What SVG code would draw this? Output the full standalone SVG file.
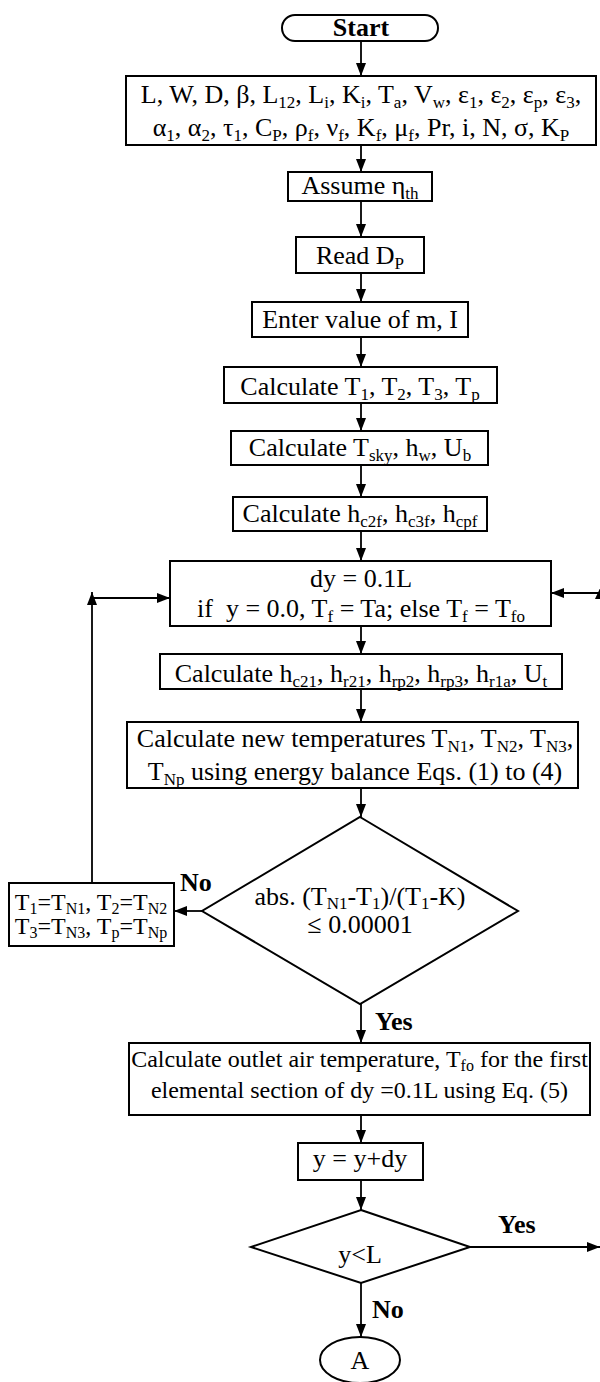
<svg xmlns="http://www.w3.org/2000/svg" width="600" height="1382" viewBox="0 0 600 1382">
<style>
text{font-family:"Liberation Serif","Times New Roman",serif;font-size:26px;fill:#000;text-anchor:middle}
.b{font-weight:bold}
.l{text-anchor:start}
.s{font-size:17px}
.m{font-size:24px}
.ms{font-size:16px}
.box{fill:#fff;stroke:#000;stroke-width:2}
.ln{fill:none;stroke:#000;stroke-width:1.8}
</style>
<defs>
<marker id="ah" markerWidth="13" markerHeight="10" refX="13" refY="5" orient="auto" markerUnits="userSpaceOnUse"><path d="M0,0 L13,5 L0,10 z" fill="#000"/></marker>
</defs>
<g id="connectors">
<path class="ln" d="M361,41 V76" marker-end="url(#ah)"/>
<path class="ln" d="M361,145 V172" marker-end="url(#ah)"/>
<path class="ln" d="M361,201 V237" marker-end="url(#ah)"/>
<path class="ln" d="M361,273 V302" marker-end="url(#ah)"/>
<path class="ln" d="M361,337 V367" marker-end="url(#ah)"/>
<path class="ln" d="M361,403 V431" marker-end="url(#ah)"/>
<path class="ln" d="M361,465 V497" marker-end="url(#ah)"/>
<path class="ln" d="M361,531 V561" marker-end="url(#ah)"/>
<path class="ln" d="M361,626 V654" marker-end="url(#ah)"/>
<path class="ln" d="M361,689 V722" marker-end="url(#ah)"/>
<path class="ln" d="M361,788 V817" marker-end="url(#ah)"/>
<path class="ln" d="M202,911 H174" marker-end="url(#ah)"/>
<path class="ln" d="M92,883 V592" marker-end="url(#ah)"/>
<path class="ln" d="M92,598 H170" marker-end="url(#ah)"/>
<path class="ln" d="M600,593 H551" marker-end="url(#ah)"/>
<path d="M601,586 L595,599 L607,599 z" fill="#000"/>
<path class="ln" d="M361,1004 V1043" marker-end="url(#ah)"/>
<path class="ln" d="M361,1115 V1143" marker-end="url(#ah)"/>
<path class="ln" d="M361,1180 V1210" marker-end="url(#ah)"/>
<path class="ln" d="M470,1247 H600" marker-end="url(#ah)"/>
<path class="ln" d="M361,1283 V1337" marker-end="url(#ah)"/>
<text class="b l" x="180" y="891">No</text>
<text class="b l" x="375" y="1030">Yes</text>
<text class="b l" x="498" y="1233">Yes</text>
<text class="b l" x="372" y="1318">No</text>
</g>
<g id="start">
<rect class="box" x="282" y="15" width="156" height="26" rx="13"/>
<text class="b" x="361" y="36">Start</text>
</g>
<g id="params">
<rect class="box" x="126" y="76" width="470" height="69"/>
<text x="361" y="103">L, W, D, β, L<tspan class="s" dy="5">12</tspan><tspan dy="-5">, L</tspan><tspan class="s" dy="5">i</tspan><tspan dy="-5">, K</tspan><tspan class="s" dy="5">i</tspan><tspan dy="-5">, T</tspan><tspan class="s" dy="5">a</tspan><tspan dy="-5">, V</tspan><tspan class="s" dy="5">w</tspan><tspan dy="-5">, ε</tspan><tspan class="s" dy="5">1</tspan><tspan dy="-5">, ε</tspan><tspan class="s" dy="5">2</tspan><tspan dy="-5">, ε</tspan><tspan class="s" dy="5">p</tspan><tspan dy="-5">, ε</tspan><tspan class="s" dy="5">3</tspan><tspan dy="-5">,</tspan></text>
<text x="361" y="136">α<tspan class="s" dy="5">1</tspan><tspan dy="-5">, α</tspan><tspan class="s" dy="5">2</tspan><tspan dy="-5">, τ</tspan><tspan class="s" dy="5">1</tspan><tspan dy="-5">, C</tspan><tspan class="s" dy="5">P</tspan><tspan dy="-5">, ρ</tspan><tspan class="s" dy="5">f</tspan><tspan dy="-5">, ν</tspan><tspan class="s" dy="5">f</tspan><tspan dy="-5">, K</tspan><tspan class="s" dy="5">f</tspan><tspan dy="-5">, μ</tspan><tspan class="s" dy="5">f</tspan><tspan dy="-5">, Pr, i, N, σ, K</tspan><tspan class="s" dy="5">P</tspan></text>
</g>
<g id="assume">
<rect class="box" x="288" y="172" width="144" height="29"/>
<text x="360" y="194">Assume η<tspan class="s" dy="5">th</tspan></text>
</g>
<g id="read">
<rect class="box" x="296" y="237" width="128" height="36"/>
<text x="360" y="264">Read D<tspan class="s" dy="5">P</tspan></text>
</g>
<g id="enter">
<rect class="box" x="252" y="302" width="216" height="35"/>
<text x="360" y="328">Enter value of m, I</text>
</g>
<g id="calcT">
<rect class="box" x="224" y="367" width="273" height="36"/>
<text x="360" y="395">Calculate T<tspan class="s" dy="5">1</tspan><tspan dy="-5">, T</tspan><tspan class="s" dy="5">2</tspan><tspan dy="-5">, T</tspan><tspan class="s" dy="5">3</tspan><tspan dy="-5">, T</tspan><tspan class="s" dy="5">p</tspan></text>
</g>
<g id="calcTsky">
<rect class="box" x="231" y="431" width="257" height="34"/>
<text x="360" y="456">Calculate T<tspan class="s" dy="5">sky</tspan><tspan dy="-5">, h</tspan><tspan class="s" dy="5">w</tspan><tspan dy="-5">, U</tspan><tspan class="s" dy="5">b</tspan></text>
</g>
<g id="calcH">
<rect class="box" x="233" y="497" width="254" height="34"/>
<text x="360" y="522">Calculate h<tspan class="s" dy="5">c2f</tspan><tspan dy="-5">, h</tspan><tspan class="s" dy="5">c3f</tspan><tspan dy="-5">, h</tspan><tspan class="s" dy="5">cpf</tspan></text>
</g>
<g id="dy">
<rect class="box" x="170" y="561" width="381" height="65"/>
<text x="361" y="587">dy = 0.1L</text>
<text x="361" y="617" xml:space="preserve">if  y = 0.0, T<tspan class="s" dy="5">f</tspan><tspan dy="-5"> = Ta; else T</tspan><tspan class="s" dy="5">f</tspan><tspan dy="-5"> = T</tspan><tspan class="s" dy="5">fo</tspan></text>
</g>
<g id="calcCoef">
<rect class="box" x="160" y="654" width="402" height="35"/>
<text x="361" y="682">Calculate h<tspan class="s" dy="5">c21</tspan><tspan dy="-5">, h</tspan><tspan class="s" dy="5">r21</tspan><tspan dy="-5">, h</tspan><tspan class="s" dy="5">rp2</tspan><tspan dy="-5">, h</tspan><tspan class="s" dy="5">rp3</tspan><tspan dy="-5">, h</tspan><tspan class="s" dy="5">r1a</tspan><tspan dy="-5">, U</tspan><tspan class="s" dy="5">t</tspan></text>
</g>
<g id="newTemps">
<rect class="box" x="127" y="722" width="451" height="66"/>
<text x="355" y="747">Calculate new temperatures T<tspan class="s" dy="5">N1</tspan><tspan dy="-5">, T</tspan><tspan class="s" dy="5">N2</tspan><tspan dy="-5">, T</tspan><tspan class="s" dy="5">N3</tspan><tspan dy="-5">,</tspan></text>
<text x="355" y="780">T<tspan class="s" dy="5">Np</tspan><tspan dy="-5"> using energy balance Eqs. (1) to (4)</tspan></text>
</g>
<g id="check">
<polygon class="box" points="360,817 518,911 360,1004 202,911"/>
<text x="360" y="905">abs. (T<tspan class="s" dy="4">N1</tspan><tspan dy="-4">-T</tspan><tspan class="s" dy="4">1</tspan><tspan dy="-4">)/(T</tspan><tspan class="s" dy="4">1</tspan><tspan dy="-4">-K)</tspan></text>
<text x="360" y="933">≤ 0.00001</text>
</g>
<g id="update">
<rect class="box" x="9" y="883" width="165" height="63"/>
<text class="m" x="91" y="910">T<tspan class="ms" dy="4">1</tspan><tspan dy="-4">=T</tspan><tspan class="ms" dy="4">N1</tspan><tspan dy="-4">, T</tspan><tspan class="ms" dy="4">2</tspan><tspan dy="-4">=T</tspan><tspan class="ms" dy="4">N2</tspan></text>
<text class="m" x="91" y="934">T<tspan class="ms" dy="4">3</tspan><tspan dy="-4">=T</tspan><tspan class="ms" dy="4">N3</tspan><tspan dy="-4">, T</tspan><tspan class="ms" dy="4">p</tspan><tspan dy="-4">=T</tspan><tspan class="ms" dy="4">Np</tspan></text>
</g>
<g id="outlet">
<rect class="box" x="129" y="1043" width="461" height="72"/>
<text class="m" x="359.5" y="1067">Calculate outlet air temperature, T<tspan class="ms" dy="4">fo</tspan><tspan dy="-4"> for the first</tspan></text>
<text class="m" x="359.5" y="1098">elemental section of dy =0.1L using Eq. (5)</text>
</g>
<g id="increment">
<rect class="box" x="298" y="1143" width="125" height="37"/>
<text x="360" y="1167">y = y+dy</text>
</g>
<g id="loopCheck">
<polygon class="box" points="361,1210 470,1247 361,1283 251,1247"/>
<text x="360" y="1263">y&lt;L</text>
</g>
<g id="endA">
<ellipse class="box" cx="360" cy="1360" rx="40" ry="23"/>
<text x="360" y="1369">A</text>
</g>
</svg>
